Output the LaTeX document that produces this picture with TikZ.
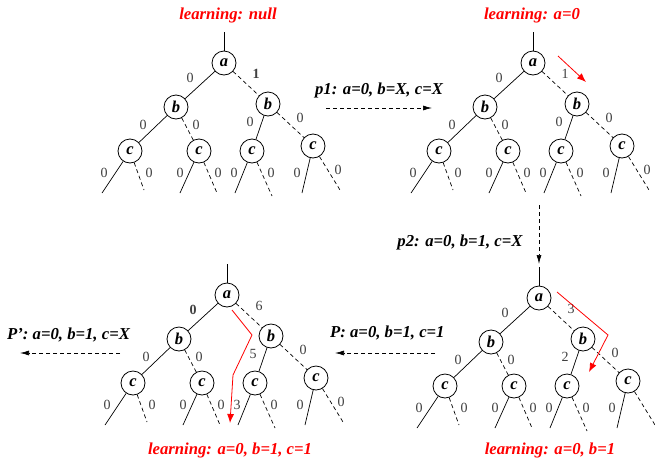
\documentclass[tikz,border=0pt]{standalone}
\usepackage{fontspec}
\setmainfont{Liberation Serif}
\usetikzlibrary{arrows.meta}
\tikzset{
 vnode/.style={circle,draw,line width=0.8pt,minimum size=24pt,inner sep=0pt,font=\fontsize{16.5}{16.5}\selectfont\bfseries\itshape},
 el/.style={font=\fontsize{14}{14}\selectfont, text=black!75, inner sep=0pt},
 ttl/.style={font=\fontsize{16.7}{18}\selectfont\bfseries\itshape, inner sep=0pt},
 sol/.style={line width=0.7pt},
 dsh/.style={line width=0.7pt, dash pattern=on 4pt off 3pt},
 redarr/.style={red, line width=0.8pt, -{Latex[length=9pt,width=7pt]}},
 blkarr/.style={line width=0.7pt, dash pattern=on 4pt off 3pt, -{Latex[length=9pt,width=5pt]}},
}
\newcommand\mytree[7]{%
\begin{scope}[shift={#2}]
\node[vnode] (#1a) at (0,0) {a};
\node[vnode] (#1bl) at (-48,44) {b};
\node[vnode] (#1br) at (44,41) {b};
\node[vnode] (#1c1) at (-94,88) {c};
\node[vnode] (#1c2) at (-25,88) {c};
\node[vnode] (#1c3) at (28,88) {c};
\node[vnode] (#1c4) at (89,83) {c};
\coordinate (#1top) at (0,-31);
\coordinate (#1l1) at (-122,130);
\coordinate (#1r1) at (-80,127);
\coordinate (#1l2) at (-44,130);
\coordinate (#1r2) at (-7,130);
\coordinate (#1l3) at (11,130);
\coordinate (#1r3) at (48,133);
\coordinate (#1l4) at (78,130);
\coordinate (#1r4) at (116,127);
\draw[sol] (#1top) -- (#1a);
\draw[sol] (#1a) -- (#1bl);
\draw[dsh] (#1a) -- (#1br);
\draw[sol] (#1bl) -- (#1c1);
\draw[dsh] (#1bl) -- (#1c2);
\draw[sol] (#1br) -- (#1c3);
\draw[dsh] (#1br) -- (#1c4);
\draw[sol] (#1c1) -- (#1l1);
\draw[dsh] (#1c1) -- (#1r1);
\draw[sol] (#1c2) -- (#1l2);
\draw[dsh] (#1c2) -- (#1r2);
\draw[sol] (#1c3) -- (#1l3);
\draw[dsh] (#1c3) -- (#1r3);
\draw[sol] (#1c4) -- (#1l4);
\draw[dsh] (#1c4) -- (#1r4);
\node[el] (#1la) at (-34,15) {#3};
\node[el] (#1ra) at (32,11) {#4};
\node[el] (#1lb) at (-81,62) {0};
\node[el] (#1rb) at (-28,62) {0};
\node[el] (#1lbb) at (26,59) {#5};
\node[el] (#1rbb) at (76,55) {0};
\node[el] (#1x1) at (-120,110) {0};
\node[el] (#1x2) at (-75,110) {0};
\node[el] (#1x3) at (-44,110) {0};
\node[el] (#1x4) at (-6,110) {0};
\node[el] (#1x5) at (10,110) {#6};
\node[el] (#1x6) at (47,110) {0};
\node[el] (#1x7) at (73,110) {0};
\node[el] (#1x8) at (114,107) {#7};
\end{scope}}
\begin{document}
\begin{tikzpicture}[x=1pt,y=-1pt]
\useasboundingbox (0,0) rectangle (655,461);
\mytree{t1}{(224,63)}{0}{\textbf{1}}{0}{0}{0}
\mytree{t2}{(533,63)}{0}{1}{0}{0}{0}
\mytree{t3}{(227,295)}{\textbf{0}}{6}{5}{3}{0}
\mytree{t4}{(539,298)}{0}{3}{2}{0}{}
% titles
\node[ttl,red] (h1) at (228,15) {learning: null};
\node[ttl,red] (h2) at (532,15) {learning: a=0};
\node[ttl,red] (h3) at (230,450) {learning: a=0, b=1, c=1};
\node[ttl,red] (h4) at (550,450) {learning: a=0, b=1};
% step labels
\node[ttl] (p1) at (379,90) {p1: a=0, b=X, c=X};
\node[ttl] (p2) at (460,242) {p2: a=0, b=1, c=X};
\node[ttl,anchor=west] (pp) at (330,333) {P: a=0, b=1, c=1};
\node[ttl,anchor=west] (pq) at (7,335) {P’: a=0, b=1, c=X};
% dashed arrows
\coordinate (p1s) at (326,108);
\coordinate (p1e) at (432,108);
\draw[blkarr] (p1s) -- (p1e);
\coordinate (p2s) at (539,205);
\coordinate (p2e) at (539,264);
\draw[blkarr] (p2s) -- (p2e);
\coordinate (pps) at (435,353);
\coordinate (ppe) at (335,353);
\draw[blkarr] (pps) -- (ppe);
\coordinate (pqs) at (120,353);
\coordinate (pqe) at (20,353);
\draw[blkarr] (pqs) -- (pqe);
% red arrows
\coordinate (r2s) at (558,56);
\coordinate (r2e) at (586,82);
\draw[redarr] (r2s) -- (r2e);
\coordinate (r3s) at (232,310);
\coordinate (r3m) at (252,335);
\coordinate (r3n) at (233,375);
\coordinate (r3e) at (230,423);
\draw[redarr] (r3s) -- (r3m) -- (r3n) -- (r3e);
\coordinate (r4s) at (557,292);
\coordinate (r4m) at (608,335);
\coordinate (r4e) at (589,372);
\draw[redarr] (r4s) -- (r4m) -- (r4e);
\end{tikzpicture}
\end{document}
